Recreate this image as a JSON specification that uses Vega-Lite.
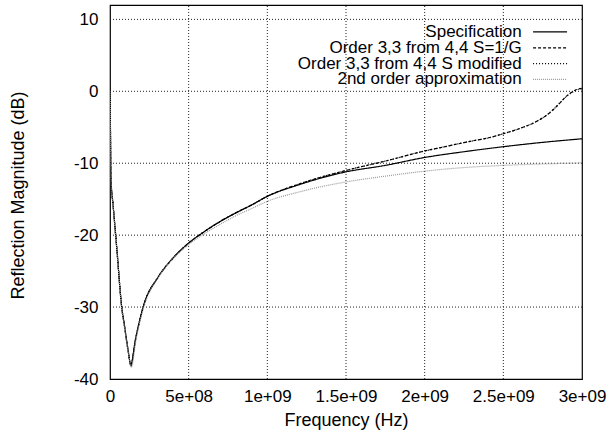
{
  "$schema": "https://vega.github.io/schema/vega-lite/v6.json",
  "width": 472,
  "height": 374,
  "autosize": "none",
  "padding": {"left": 110, "top": 5, "right": 28, "bottom": 51},
  "background": "white",
  "config": {
    "view": {"stroke": "black", "strokeWidth": 1.2},
    "font": "Liberation Sans"
  },
  "datasets": {
    "gx": [{"v": 500000000}, {"v": 1000000000}, {"v": 1500000000}, {"v": 2000000000}, {"v": 2500000000}],
    "gy": [{"v": -30}, {"v": -20}, {"v": -10}, {"v": 0}, {"v": 10}],
    "curves": [
      {"f": 0, "s": "Specification", "db": 0},
      {"f": 1900000, "s": "Specification", "db": -3.2},
      {"f": 6400000, "s": "Specification", "db": -12.3},
      {"f": 19700000, "s": "Specification", "db": -15.8},
      {"f": 44500000, "s": "Specification", "db": -22.2},
      {"f": 74400000, "s": "Specification", "db": -30.0},
      {"f": 90000000, "s": "Specification", "db": -32.3},
      {"f": 115000000, "s": "Specification", "db": -36.0},
      {"f": 132000000, "s": "Specification", "db": -38.0},
      {"f": 162000000, "s": "Specification", "db": -34.5},
      {"f": 212000000, "s": "Specification", "db": -29.9},
      {"f": 307000000, "s": "Specification", "db": -25.8},
      {"f": 400000000, "s": "Specification", "db": -23.2},
      {"f": 500000000, "s": "Specification", "db": -21.1},
      {"f": 600000000, "s": "Specification", "db": -19.5},
      {"f": 700000000, "s": "Specification", "db": -18.1},
      {"f": 800000000, "s": "Specification", "db": -16.9},
      {"f": 900000000, "s": "Specification", "db": -15.8},
      {"f": 1000000000, "s": "Specification", "db": -14.6},
      {"f": 1200000000, "s": "Specification", "db": -13.0},
      {"f": 1500000000, "s": "Specification", "db": -11.2},
      {"f": 1750000000, "s": "Specification", "db": -10.3},
      {"f": 2000000000, "s": "Specification", "db": -9.2},
      {"f": 2250000000, "s": "Specification", "db": -8.4},
      {"f": 2500000000, "s": "Specification", "db": -7.7},
      {"f": 2750000000, "s": "Specification", "db": -7.1},
      {"f": 3000000000, "s": "Specification", "db": -6.6},

      {"f": 0, "s": "Order 3,3 from 4,4 S=1/G", "db": 0},
      {"f": 1900000, "s": "Order 3,3 from 4,4 S=1/G", "db": -3.2},
      {"f": 6400000, "s": "Order 3,3 from 4,4 S=1/G", "db": -12.3},
      {"f": 19700000, "s": "Order 3,3 from 4,4 S=1/G", "db": -15.8},
      {"f": 44500000, "s": "Order 3,3 from 4,4 S=1/G", "db": -22.2},
      {"f": 74400000, "s": "Order 3,3 from 4,4 S=1/G", "db": -30.0},
      {"f": 90000000, "s": "Order 3,3 from 4,4 S=1/G", "db": -32.3},
      {"f": 115000000, "s": "Order 3,3 from 4,4 S=1/G", "db": -36.0},
      {"f": 132000000, "s": "Order 3,3 from 4,4 S=1/G", "db": -38.1},
      {"f": 162000000, "s": "Order 3,3 from 4,4 S=1/G", "db": -34.5},
      {"f": 212000000, "s": "Order 3,3 from 4,4 S=1/G", "db": -29.9},
      {"f": 307000000, "s": "Order 3,3 from 4,4 S=1/G", "db": -25.8},
      {"f": 400000000, "s": "Order 3,3 from 4,4 S=1/G", "db": -23.2},
      {"f": 500000000, "s": "Order 3,3 from 4,4 S=1/G", "db": -21.1},
      {"f": 600000000, "s": "Order 3,3 from 4,4 S=1/G", "db": -19.5},
      {"f": 700000000, "s": "Order 3,3 from 4,4 S=1/G", "db": -18.1},
      {"f": 800000000, "s": "Order 3,3 from 4,4 S=1/G", "db": -16.9},
      {"f": 900000000, "s": "Order 3,3 from 4,4 S=1/G", "db": -15.8},
      {"f": 1000000000, "s": "Order 3,3 from 4,4 S=1/G", "db": -14.6},
      {"f": 1200000000, "s": "Order 3,3 from 4,4 S=1/G", "db": -12.9},
      {"f": 1500000000, "s": "Order 3,3 from 4,4 S=1/G", "db": -11.0},
      {"f": 1750000000, "s": "Order 3,3 from 4,4 S=1/G", "db": -9.7},
      {"f": 2000000000, "s": "Order 3,3 from 4,4 S=1/G", "db": -8.3},
      {"f": 2150000000, "s": "Order 3,3 from 4,4 S=1/G", "db": -7.6},
      {"f": 2290000000, "s": "Order 3,3 from 4,4 S=1/G", "db": -6.95},
      {"f": 2400000000, "s": "Order 3,3 from 4,4 S=1/G", "db": -6.5},
      {"f": 2500000000, "s": "Order 3,3 from 4,4 S=1/G", "db": -5.9},
      {"f": 2600000000, "s": "Order 3,3 from 4,4 S=1/G", "db": -5.2},
      {"f": 2710000000, "s": "Order 3,3 from 4,4 S=1/G", "db": -4.2},
      {"f": 2770000000, "s": "Order 3,3 from 4,4 S=1/G", "db": -3.4},
      {"f": 2820000000, "s": "Order 3,3 from 4,4 S=1/G", "db": -2.5},
      {"f": 2860000000, "s": "Order 3,3 from 4,4 S=1/G", "db": -1.6},
      {"f": 2900000000, "s": "Order 3,3 from 4,4 S=1/G", "db": -0.7},
      {"f": 2930000000, "s": "Order 3,3 from 4,4 S=1/G", "db": -0.2},
      {"f": 2966000000, "s": "Order 3,3 from 4,4 S=1/G", "db": 0.25},
      {"f": 3000000000, "s": "Order 3,3 from 4,4 S=1/G", "db": 0.4},

      {"f": 0, "s": "Order 3,3 from 4,4 S modified", "db": 0},
      {"f": 1900000, "s": "Order 3,3 from 4,4 S modified", "db": -3.2},
      {"f": 6400000, "s": "Order 3,3 from 4,4 S modified", "db": -12.3},
      {"f": 19700000, "s": "Order 3,3 from 4,4 S modified", "db": -15.8},
      {"f": 44500000, "s": "Order 3,3 from 4,4 S modified", "db": -22.2},
      {"f": 74400000, "s": "Order 3,3 from 4,4 S modified", "db": -30.0},
      {"f": 90000000, "s": "Order 3,3 from 4,4 S modified", "db": -32.4},
      {"f": 115000000, "s": "Order 3,3 from 4,4 S modified", "db": -36.1},
      {"f": 133000000, "s": "Order 3,3 from 4,4 S modified", "db": -38.2},
      {"f": 162000000, "s": "Order 3,3 from 4,4 S modified", "db": -34.6},
      {"f": 212000000, "s": "Order 3,3 from 4,4 S modified", "db": -29.9},
      {"f": 307000000, "s": "Order 3,3 from 4,4 S modified", "db": -25.8},
      {"f": 400000000, "s": "Order 3,3 from 4,4 S modified", "db": -23.2},
      {"f": 500000000, "s": "Order 3,3 from 4,4 S modified", "db": -21.1},
      {"f": 600000000, "s": "Order 3,3 from 4,4 S modified", "db": -19.5},
      {"f": 700000000, "s": "Order 3,3 from 4,4 S modified", "db": -18.1},
      {"f": 800000000, "s": "Order 3,3 from 4,4 S modified", "db": -16.9},
      {"f": 900000000, "s": "Order 3,3 from 4,4 S modified", "db": -15.8},
      {"f": 1000000000, "s": "Order 3,3 from 4,4 S modified", "db": -14.6},
      {"f": 1200000000, "s": "Order 3,3 from 4,4 S modified", "db": -12.9},
      {"f": 1500000000, "s": "Order 3,3 from 4,4 S modified", "db": -11.0},
      {"f": 1750000000, "s": "Order 3,3 from 4,4 S modified", "db": -9.7},
      {"f": 2000000000, "s": "Order 3,3 from 4,4 S modified", "db": -8.3},
      {"f": 2150000000, "s": "Order 3,3 from 4,4 S modified", "db": -7.6},
      {"f": 2290000000, "s": "Order 3,3 from 4,4 S modified", "db": -6.95},
      {"f": 2400000000, "s": "Order 3,3 from 4,4 S modified", "db": -6.5},
      {"f": 2500000000, "s": "Order 3,3 from 4,4 S modified", "db": -5.9},
      {"f": 2600000000, "s": "Order 3,3 from 4,4 S modified", "db": -5.2},
      {"f": 2710000000, "s": "Order 3,3 from 4,4 S modified", "db": -4.2},
      {"f": 2770000000, "s": "Order 3,3 from 4,4 S modified", "db": -3.4},
      {"f": 2820000000, "s": "Order 3,3 from 4,4 S modified", "db": -2.5},
      {"f": 2860000000, "s": "Order 3,3 from 4,4 S modified", "db": -1.6},
      {"f": 2900000000, "s": "Order 3,3 from 4,4 S modified", "db": -0.75},
      {"f": 2930000000, "s": "Order 3,3 from 4,4 S modified", "db": -0.25},
      {"f": 2966000000, "s": "Order 3,3 from 4,4 S modified", "db": 0.2},
      {"f": 3000000000, "s": "Order 3,3 from 4,4 S modified", "db": 0.35},

      {"f": 0, "s": "2nd order approximation", "db": 0},
      {"f": 1900000, "s": "2nd order approximation", "db": -3.3},
      {"f": 6400000, "s": "2nd order approximation", "db": -12.4},
      {"f": 19700000, "s": "2nd order approximation", "db": -15.9},
      {"f": 44500000, "s": "2nd order approximation", "db": -22.4},
      {"f": 74400000, "s": "2nd order approximation", "db": -30.3},
      {"f": 90000000, "s": "2nd order approximation", "db": -32.6},
      {"f": 117000000, "s": "2nd order approximation", "db": -36.4},
      {"f": 135000000, "s": "2nd order approximation", "db": -38.4},
      {"f": 165000000, "s": "2nd order approximation", "db": -34.6},
      {"f": 215000000, "s": "2nd order approximation", "db": -30.0},
      {"f": 307000000, "s": "2nd order approximation", "db": -25.9},
      {"f": 400000000, "s": "2nd order approximation", "db": -23.3},
      {"f": 500000000, "s": "2nd order approximation", "db": -21.3},
      {"f": 600000000, "s": "2nd order approximation", "db": -19.8},
      {"f": 700000000, "s": "2nd order approximation", "db": -18.5},
      {"f": 800000000, "s": "2nd order approximation", "db": -17.3},
      {"f": 900000000, "s": "2nd order approximation", "db": -16.3},
      {"f": 1000000000, "s": "2nd order approximation", "db": -15.3},
      {"f": 1200000000, "s": "2nd order approximation", "db": -14.0},
      {"f": 1500000000, "s": "2nd order approximation", "db": -12.6},
      {"f": 1750000000, "s": "2nd order approximation", "db": -11.8},
      {"f": 2000000000, "s": "2nd order approximation", "db": -11.1},
      {"f": 2250000000, "s": "2nd order approximation", "db": -10.6},
      {"f": 2500000000, "s": "2nd order approximation", "db": -10.3},
      {"f": 2750000000, "s": "2nd order approximation", "db": -10.1},
      {"f": 3000000000, "s": "2nd order approximation", "db": -9.95}
    ],
    "key": [
      {"s": "Specification", "ly": 8.25, "lx": 2617000000, "a": 2689000000, "b": 2905000000},
      {"s": "Order 3,3 from 4,4 S=1/G", "ly": 6.05, "lx": 2617000000, "a": 2689000000, "b": 2905000000},
      {"s": "Order 3,3 from 4,4 S modified", "ly": 3.85, "lx": 2617000000, "a": 2689000000, "b": 2905000000},
      {"s": "2nd order approximation", "ly": 1.65, "lx": 2617000000, "a": 2689000000, "b": 2905000000}
    ]
  },
  "layer": [
    {
      "data": {"name": "gx"},
      "mark": {"type": "rule", "color": "#222222", "strokeWidth": 1, "strokeDash": [1, 2]},
      "encoding": {
        "x": {
          "field": "v", "type": "quantitative",
          "scale": {"domain": [0, 3000000000], "nice": false, "zero": false},
          "axis": {
            "title": "Frequency (Hz)",
            "values": [0, 500000000, 1000000000, 1500000000, 2000000000, 2500000000, 3000000000],
            "labelExpr": "datum.value == 0 ? '0' : replace(format(datum.value, '.1~e'), 'e+', 'e+0')",
            "labelPadding": 9,
            "titlePadding": 7,
            "labelFlush": false,
            "labelFont": "Liberation Sans",
            "titleFont": "Liberation Sans",
            "labelFontSize": 17,
            "titleFontSize": 18,
            "titleFontWeight": "normal",
            "labelColor": "black",
            "titleColor": "black",
            "domain": false,
            "ticks": false,
            "grid": false
          }
        },
        "y": {"datum": -40, "type": "quantitative"},
        "y2": {"datum": 12}
      }
    },
    {
      "data": {"name": "gy"},
      "mark": {"type": "rule", "color": "#222222", "strokeWidth": 1, "strokeDash": [1, 2]},
      "encoding": {
        "y": {
          "field": "v", "type": "quantitative",
          "scale": {"domain": [-40, 12], "nice": false, "zero": false},
          "axis": {
            "title": "Reflection Magnitude (dB)",
            "values": [-40, -30, -20, -10, 0, 10],
            "labelExpr": "datum.value + ''",
            "labelPadding": 12,
            "titleX": -92,
            "titleY": 190,
            "titleAngle": -90,
            "titleAlign": "center",
            "titleBaseline": "middle",
            "labelFont": "Liberation Sans",
            "titleFont": "Liberation Sans",
            "labelFontSize": 17,
            "titleFontSize": 18,
            "titleFontWeight": "normal",
            "labelColor": "black",
            "titleColor": "black",
            "domain": false,
            "ticks": false,
            "grid": false
          }
        },
        "x": {"datum": 0, "type": "quantitative"},
        "x2": {"datum": 3000000000}
      }
    },
    {
      "data": {"name": "curves"},
      "mark": {"type": "line", "strokeWidth": 1.2, "clip": true, "interpolate": "monotone"},
      "encoding": {
        "x": {"field": "f", "type": "quantitative"},
        "y": {"field": "db", "type": "quantitative"},
        "color": {
          "field": "s", "type": "nominal", "legend": null,
          "scale": {
            "domain": ["Specification", "Order 3,3 from 4,4 S=1/G", "Order 3,3 from 4,4 S modified", "2nd order approximation"],
            "range": ["#000000", "#000000", "#000000", "#9a9a9a"]
          }
        },
        "strokeDash": {
          "field": "s", "type": "nominal", "legend": null,
          "scale": {
            "domain": ["Specification", "Order 3,3 from 4,4 S=1/G", "Order 3,3 from 4,4 S modified", "2nd order approximation"],
            "range": [[1, 0], [3, 2], [1, 2], [1, 1]]
          }
        },
        "order": {"field": "f", "type": "quantitative"}
      }
    },
    {
      "data": {"name": "key"},
      "mark": {"type": "text", "align": "right", "baseline": "middle", "fontSize": 17, "font": "Liberation Sans", "color": "black"},
      "encoding": {
        "x": {"field": "lx", "type": "quantitative"},
        "y": {"field": "ly", "type": "quantitative"},
        "text": {"field": "s"}
      }
    },
    {
      "data": {"name": "key"},
      "mark": {"type": "rule", "strokeWidth": 1.2},
      "encoding": {
        "x": {"field": "a", "type": "quantitative"},
        "x2": {"field": "b"},
        "y": {"field": "ly", "type": "quantitative"},
        "color": {"field": "s", "type": "nominal", "legend": null},
        "strokeDash": {"field": "s", "type": "nominal", "legend": null}
      }
    }
  ]
}
